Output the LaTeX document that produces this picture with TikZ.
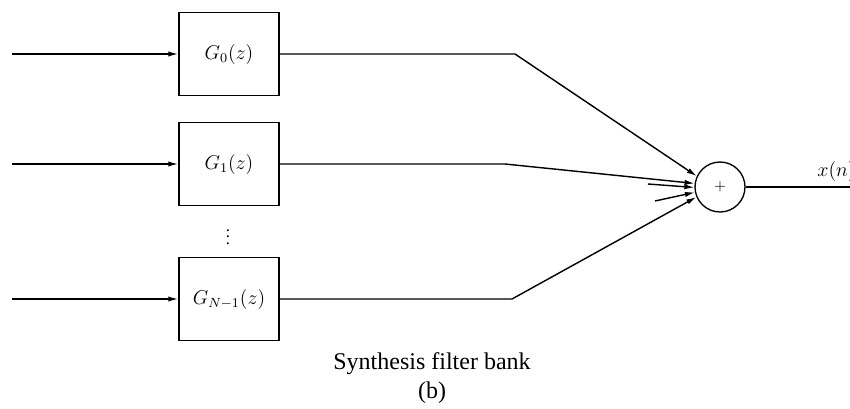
\documentclass[tikz,border=0pt]{standalone}
\usepackage{fontspec}
\setmainfont{Liberation Serif}
\usetikzlibrary{arrows.meta}

\tikzset{
  filt/.style={draw, line width=0.9pt, minimum width=60pt, minimum height=50pt,
               inner sep=0pt, font=\large},
  adder/.style={draw, circle, line width=0.8pt, minimum size=30pt, inner sep=0pt},
}

\begin{document}
\begin{tikzpicture}[x=0.6pt, y=-0.6pt, line width=0.85pt,
                    >={Latex[length=6pt,width=3.2pt]}]
        \useasboundingbox (0,0) rectangle (850,408);

        % filter branches
        \node[filt] (g0) at (229,54)  {$G_0(z)$};
        \node[filt] (g1) at (229,164) {$G_1(z)$};
        \node[filt] (gn) at (229,299) {$G_{N-1}(z)$};
        \node (dots) at (228,232) {$\vdots$};

        \coordinate (in0) at (12,54);
        \coordinate (in1) at (12,164);
        \coordinate (inn) at (12,299);
        \draw[->] (in0) -- (g0);
        \draw[->] (in1) -- (g1);
        \draw[->] (inn) -- (gn);

        % summing node
        \node[adder] (sum) at (720,187) {\small $+$};
        \coordinate (k0) at (515,54);
        \coordinate (k1) at (505,164);
        \coordinate (kn) at (512,299);
        \draw[->] (g0.east) -- (k0) -- (sum.155);
        \draw[->] (g1.east) -- (k1) -- (sum.172);
        \draw[->] (gn.east) -- (kn) -- (sum.203);
        \coordinate (e1) at (648,184);
        \coordinate (e2) at (655,201);
        \draw[->] (e1) -- (sum.181);
        \draw[->] (e2) -- (sum.192);

        % output
        \coordinate (out) at (850,187);
        \draw (sum.east) -- (out);
        \node[anchor=south west, inner sep=1pt] (xn) at (815,184) {\large $x(n)$};

        \node[font=\Large] (cap) at (432,364) {Synthesis filter bank};
        \node[font=\Large] (sub) at (432,393) {(b)};
\end{tikzpicture}
\end{document}
